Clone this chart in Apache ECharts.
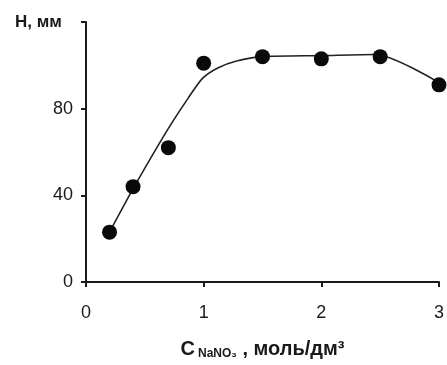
<!DOCTYPE html>
<html>
<head>
<meta charset="utf-8">
<script src="https://cdn.jsdelivr.net/npm/echarts@6/dist/echarts.min.js"></script>
<style>
  html,body{margin:0;padding:0;background:#fff;}
  #chart{width:447px;height:365px;}
</style>
</head>
<body>
<div id="chart"></div>
<script>
// измеренные точки: концентрация NaNO3 (моль/дм3) и высота H (мм)
var concPoints = [0.2, 0.4, 0.7, 1.0, 1.5, 2.0, 2.5, 3.0];
var heightPoints = [23, 44, 62, 101, 104, 103, 104, 91];
// сглаженная кривая
var curveConc = [0.2, 0.41, 0.69, 0.87, 0.99, 1.12, 1.28, 1.5, 2.0, 2.46, 3.0];
var curveHeight = [23, 44, 70, 85, 94, 98.8, 102, 104, 104.5, 105, 92];
var yTicks = [0, 40, 80, 120];
var xTicks = [0, 1, 2, 3];

var myChart = echarts.init(document.getElementById('chart'))

var pts = concPoints.map(function(c, i){ return [c, heightPoints[i]] })
var curve = curveConc.map(function(c, i){ return [c, curveHeight[i]] })

var axisCol = '#1a1a1a'
var font = 'Liberation Sans, Arial, sans-serif'

var option = {
  animation: false,
  grid: { left: 86, right: 2, top: 22, bottom: 81, containLabel: false },
  xAxis: {
    type: 'value',
    min: xTicks[0],
    max: xTicks[xTicks.length - 1],
    interval: 1,
    name: '{c|C}{sub|NaNO₃}{c| , моль/дм³}',
    nameLocation: 'middle',
    nameGap: 56,
    nameTextStyle: {
      rich: {
        c: { fontFamily: font, fontWeight: 'bold', fontSize: 20, color: axisCol },
        sub: { fontFamily: font, fontWeight: 'bold', fontSize: 12, color: axisCol, padding: [10, 0, 0, 3] }
      }
    },
    axisLine: { show: true, lineStyle: { color: axisCol, width: 2 } },
    axisTick: { show: true, length: 5, lineStyle: { color: axisCol, width: 2 } },
    axisLabel: { margin: 22, fontFamily: font, fontSize: 18, color: axisCol },
    splitLine: { show: false }
  },
  yAxis: {
    type: 'value',
    min: yTicks[0],
    max: yTicks[yTicks.length - 1],
    interval: 40,
    axisLine: { show: true, lineStyle: { color: axisCol, width: 2 } },
    axisTick: { show: true, length: 5, lineStyle: { color: axisCol, width: 2 } },
    axisLabel: {
      margin: 13, fontFamily: font, fontSize: 18, color: axisCol,
      formatter: function(v){ return v === 120 ? '' : String(v) }
    },
    splitLine: { show: false }
  },
  graphic: [{
    type: 'text',
    left: 15, top: 14,
    style: { text: 'H, мм', fontFamily: font, fontWeight: 'bold', fontSize: 17, fill: axisCol }
  }],
  series: [{
    type: 'line',
    data: curve,
    smooth: 0.25,
    symbol: 'none',
    lineStyle: { color: '#222', width: 1.6 },
    z: 2
  }, {
    type: 'scatter',
    data: pts,
    symbol: 'circle',
    symbolSize: 15,
    itemStyle: { color: '#0a0a0a', opacity: 1 },
    z: 3
  }]
}
myChart.setOption(option)
</script>
</body>
</html>
